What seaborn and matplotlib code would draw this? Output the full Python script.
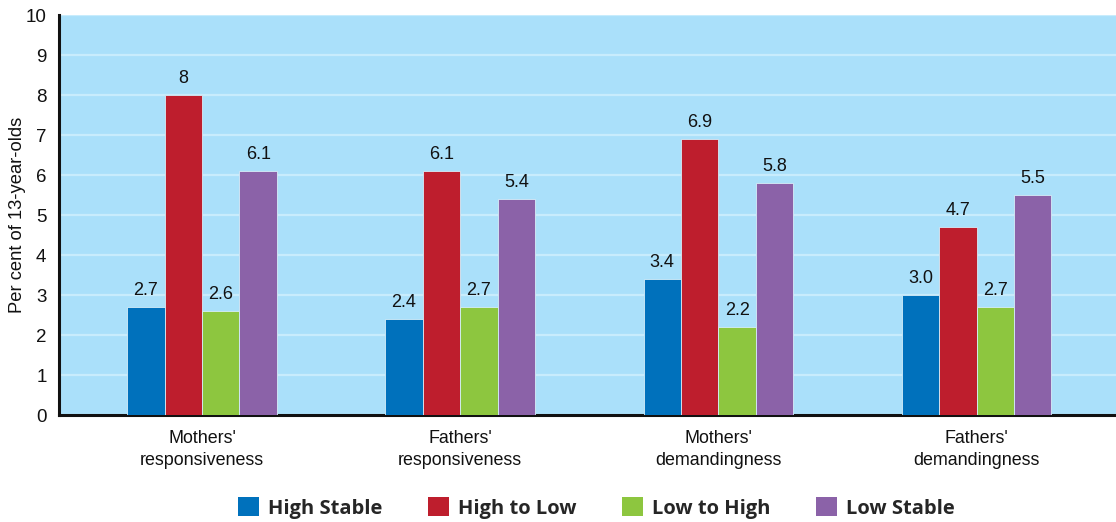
import matplotlib
matplotlib.use("Agg")
import matplotlib.pyplot as plt
from matplotlib.patches import Patch
import seaborn as sns
import pandas as pd

categories = ["Mothers'\nresponsiveness", "Fathers'\nresponsiveness",
              "Mothers'\ndemandingness", "Fathers'\ndemandingness"]
series = ["High Stable", "High to Low", "Low to High", "Low Stable"]
high_stable = [2.7, 2.4, 3.4, 3.0]
high_to_low = [8.0, 6.1, 6.9, 4.7]
low_to_high = [2.6, 2.7, 2.2, 2.7]
low_stable = [6.1, 5.4, 5.8, 5.5]
value_labels = [
    ["2.7", "2.4", "3.4", "3.0"],
    ["8", "6.1", "6.9", "4.7"],
    ["2.6", "2.7", "2.2", "2.7"],
    ["6.1", "5.4", "5.8", "5.5"],
]
y_ticks = list(range(0, 11))

colors = ["#0071BC", "#BE1E2D", "#8DC63F", "#8B62A8"]

sns.set_theme(style="white")
plt.rcParams["font.family"] = ["Liberation Sans", "DejaVu Sans"]

rows = []
for name, vals in zip(series, [high_stable, high_to_low, low_to_high, low_stable]):
    for cat, v in zip(categories, vals):
        rows.append({"category": cat, "series": name, "value": v})
df = pd.DataFrame(rows)

fig = plt.figure(figsize=(11.16, 5.22), dpi=100)
ax = fig.add_axes([59 / 1116, 1 - 415 / 522, (1116 - 59) / 1116, 400 / 522])
ax.set_facecolor("#AAE0FA")

sns.barplot(data=df, x="category", y="value", hue="series",
            hue_order=series, order=categories, palette=colors,
            saturation=1, width=0.58, gap=0, edgecolor="#D6EEF9",
            linewidth=0.6, legend=False, ax=ax, zorder=3)

ax.set_ylim(0, 10)
ax.set_xlim(-0.554, 3.54)
ax.set_yticks(y_ticks)
ax.yaxis.grid(True, color="#C8ECFC", linewidth=1.6, zorder=0)
ax.set_axisbelow(True)

for container, labels in zip(ax.containers, value_labels):
    ax.bar_label(container, labels=labels, padding=6, fontsize=13, color="#111111")

ax.tick_params(axis="y", length=0, labelsize=13.5, colors="#111111", pad=9)
ax.tick_params(axis="x", length=0, labelsize=12.9, colors="#111111", pad=11)
for lbl in ax.get_xticklabels():
    lbl.set_linespacing(1.35)
ax.set_xlabel("")
ax.set_ylabel("Per cent of 13-year-olds", fontsize=13.2, color="#111111")
ax.yaxis.set_label_coords(-0.031, 0.5)
for side in ["top", "right"]:
    ax.spines[side].set_visible(False)
for side in ["left", "bottom"]:
    ax.spines[side].set_color("#111111")
    ax.spines[side].set_linewidth(2.2)

handles = [Patch(facecolor=c, edgecolor="none") for c in colors]
fig.legend(handles, series, loc="center", bbox_to_anchor=(0.5345, 1 - 508 / 522),
           ncol=4, frameon=False, handlelength=1.05, handleheight=1.05,
           handletextpad=0.45, columnspacing=2.25,
           prop={"family": ["Open Sans", "DejaVu Sans"], "weight": "bold", "size": 14.5})

fig.savefig("out.png", dpi=100)
